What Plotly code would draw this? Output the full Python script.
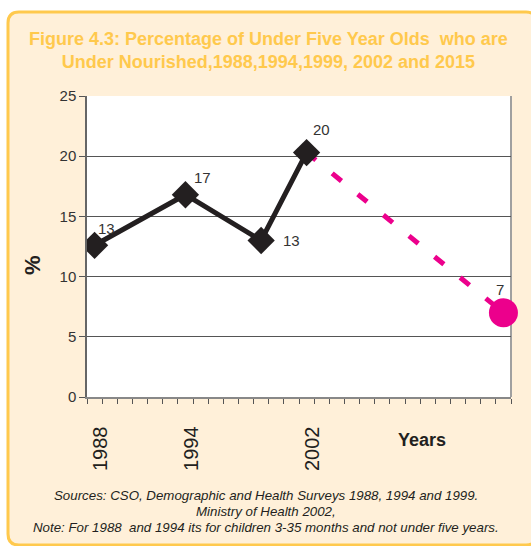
import plotly.graph_objects as go

# ---- data ----
years = [1988, 1994, 1999, 2002]
values = [12.6, 16.8, 13.0, 20.3]
value_labels = ["13", "17", "13", "20"]
target_years = [2002, 2015]
target_values = [20.3, 7.0]
target_label = "7"
xtick_years = [1988, 1994, 2002]
ytick_vals = [0, 5, 10, 15, 20, 25]

title = ("Figure 4.3: Percentage of Under Five Year Olds  who are<br>"
         "Under Nourished,1988,1994,1999, 2002 and 2015")
footer = ["Sources: CSO, Demographic and Health Surveys 1988, 1994 and 1999.",
          "Ministry of Health 2002,",
          "Note: For 1988  and 1994 its for children 3-35 months and not under five years."]

W, H = 531, 546
L, R, T, B = 87, 511, 96, 397  # plot area pixels


def px(x):
    return (x - L) / (R - L)


def py(y):
    return (B - y) / (B - T)


fig = go.Figure()
fig.add_trace(go.Scatter(
    x=target_years, y=target_values, mode="lines",
    line=dict(color="#EC008C", width=5, dash="12px,21px"),
    hoverinfo="skip", showlegend=False))
fig.add_trace(go.Scatter(
    x=years, y=values, mode="lines+markers",
    line=dict(color="#231F20", width=5),
    marker=dict(symbol="diamond", size=21, color="#231F20"),
    showlegend=False))
fig.add_trace(go.Scatter(
    x=[target_years[-1]], y=[target_values[-1]], mode="markers",
    marker=dict(symbol="circle", size=29, color="#EC008C"),
    cliponaxis=False, showlegend=False))

# value labels
offsets = [(12, 17), (17, 17), (30, 0), (15, 23), (-3, 23)]
all_x = years + [target_years[-1]]
all_y = values + [target_values[-1]]
all_t = value_labels + [target_label]
for (xx, yy, tt, (dx, dy)) in zip(all_x, all_y, all_t, offsets):
    fig.add_annotation(x=xx, y=yy, xref="x", yref="y", text=tt, showarrow=False,
                       xshift=dx, yshift=dy,
                       font=dict(family="Arial, Liberation Sans", size=15, color="#333333"))

# x tick labels (rotated)
for yr in xtick_years:
    fig.add_annotation(x=yr, y=py(424), xref="x", yref="paper", text=str(yr),
                       showarrow=False, textangle=-90, xanchor="center", yanchor="top",
                       xshift=5,
                       font=dict(family="Arial, Liberation Sans", size=20, color="#231F20"))

fig.add_annotation(x=px(422), y=py(440), xref="paper", yref="paper", text="<b>Years</b>",
                   showarrow=False, xanchor="center", yanchor="middle",
                   font=dict(family="Arial, Liberation Sans", size=18, color="#231F20"))
fig.add_annotation(x=px(32), y=py(265), xref="paper", yref="paper", text="<b>%</b>",
                   showarrow=False, textangle=-90, xanchor="center", yanchor="middle",
                   font=dict(family="Arial, Liberation Sans", size=22, color="#231F20"))

# title
fig.add_annotation(x=px(268), y=py(50), xref="paper", yref="paper", text="<b>" + title + "</b>",
                   showarrow=False, xanchor="center", yanchor="middle",
                   font=dict(family="Arial, Liberation Sans", size=18, color="#FFC94D"))

# footer
for i, line in enumerate(footer):
    fig.add_annotation(x=px(266), y=py(495 + 16 * i), xref="paper", yref="paper",
                       text="<i>" + line + "</i>", showarrow=False,
                       xanchor="center", yanchor="middle",
                       font=dict(family="Arial, Liberation Sans", size=13.3, color="#231F20"))

# panel background with rounded corners
x0, x1, y0, y1 = px(8), px(537), py(545), py(12)
rx, ry = 11 / (R - L), 11 / (B - T)
path = (f"M {x0},{y1 - ry} Q {x0},{y1} {x0 + rx},{y1} L {x1 - rx},{y1} Q {x1},{y1} {x1},{y1 - ry} "
        f"L {x1},{y0 + ry} Q {x1},{y0} {x1 - rx},{y0} L {x0 + rx},{y0} Q {x0},{y0} {x0},{y0 + ry} Z")
fig.add_shape(type="path", path=path, xref="paper", yref="paper", layer="below",
              fillcolor="#FFF0D9", line=dict(color="#FFC94D", width=3))
fig.add_shape(type="rect", x0=0, x1=1, y0=0, y1=1, xref="paper", yref="paper", layer="below",
              fillcolor="white", line=dict(width=0))
fig.add_shape(type="line", x0=1, x1=1, y0=0, y1=1, xref="paper", yref="paper", layer="below",
              line=dict(color="#A0A0A0", width=2))

fig.update_xaxes(range=[1987.5, 2015.5], tickmode="linear", tick0=1987.5, dtick=1,
                 ticks="outside", ticklen=5, tickcolor="#555555", tickwidth=1,
                 showticklabels=False, showgrid=False, zeroline=False,
                 showline=True, linecolor="#888888", linewidth=1.5)
fig.update_yaxes(range=[0, 25], tickmode="array", tickvals=ytick_vals,
                 ticks="outside", ticklen=6, tickcolor="#555555",
                 showgrid=True, gridcolor="#555555", gridwidth=1, zeroline=False,
                 showline=True, linecolor="#666666", linewidth=1.5,
                 tickfont=dict(family="Arial, Liberation Sans", size=15, color="#333333"))

fig.update_layout(width=W, height=H, margin=dict(l=L, r=W - R, t=T, b=H - B),
                  paper_bgcolor="white", plot_bgcolor="white", showlegend=False)

fig.write_html("out.html", config={"displayModeBar": False},
               post_script="document.body.style.margin='0';document.body.style.overflow='hidden';")
